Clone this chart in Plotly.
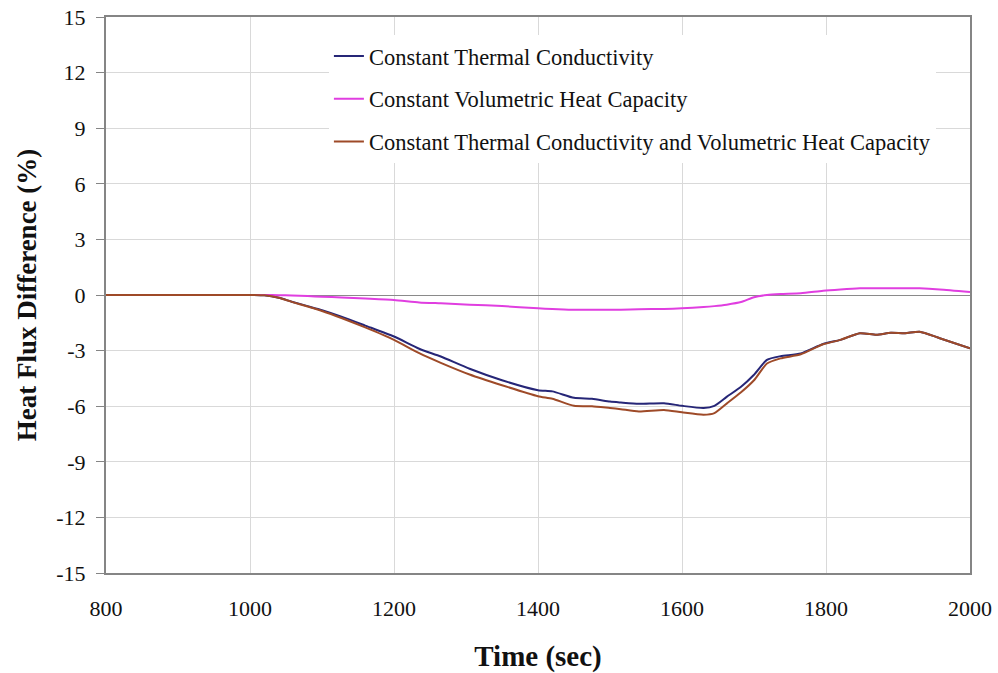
import plotly.graph_objects as go

time_s = [800, 1000, 1020, 1040, 1058, 1080, 1100, 1127, 1160, 1200, 1235, 1265, 1305, 1350,
          1400, 1420, 1450, 1475, 1500, 1515, 1540, 1575, 1600, 1630, 1645, 1662, 1682, 1700,
          1718, 1737, 1765, 1796, 1820, 1847, 1870, 1890, 1910, 1930, 1958, 2000]

const_k = [0, 0, -0.02, -0.15, -0.36, -0.6, -0.82, -1.17, -1.65, -2.24, -2.9, -3.32, -3.98, -4.6,
           -5.14, -5.2, -5.55, -5.6, -5.75, -5.8, -5.87, -5.84, -5.98, -6.1, -5.98, -5.5, -4.95, -4.3,
           -3.5, -3.3, -3.15, -2.64, -2.42, -2.06, -2.14, -2.04, -2.06, -1.98, -2.33, -2.87]

const_c = [0, 0, 0, -0.01, -0.03, -0.06, -0.09, -0.13, -0.19, -0.27, -0.4, -0.45, -0.52, -0.6,
           -0.72, -0.75, -0.8, -0.79, -0.8, -0.8, -0.77, -0.75, -0.72, -0.65, -0.6, -0.52, -0.38, -0.12,
           0.0, 0.05, 0.09, 0.23, 0.3, 0.36, 0.37, 0.37, 0.37, 0.36, 0.3, 0.16]

const_kc = [0, 0, -0.02, -0.15, -0.37, -0.62, -0.86, -1.24, -1.75, -2.42, -3.14, -3.66, -4.29, -4.87,
            -5.46, -5.6, -5.98, -6.0, -6.1, -6.16, -6.28, -6.2, -6.33, -6.46, -6.37, -5.86, -5.25, -4.6,
            -3.7, -3.42, -3.2, -2.66, -2.42, -2.06, -2.14, -2.04, -2.06, -1.98, -2.33, -2.87]

names = ["Constant Thermal Conductivity",
         "Constant Volumetric Heat Capacity",
         "Constant Thermal Conductivity and Volumetric Heat Capacity"]
colors = ["#262677", "#e03ee0", "#9e4a28"]
series = [const_k, const_c, const_kc]

y_tickvals = [-15, -12, -9, -6, -3, 0, 3, 6, 9, 12, 15]
y_ticktext = ["-15", "-12", "-9", "-6", "-3", "0", "3", "6", "9", "12", "15"]
x_tickvals = [800, 1000, 1200, 1400, 1600, 1800, 2000]

fig = go.Figure()
for i, (nm, col, ys) in enumerate(zip(names, colors, series)):
    fig.add_trace(go.Scatter(x=time_s, y=ys, mode="lines", name=nm, legendgroup=f"g{i}",
                             line=dict(color=col, width=2, shape="spline", smoothing=0.6)))

font_family = "Liberation Serif"
fig.update_layout(
    width=998, height=673,
    margin=dict(l=106, r=28, t=17, b=100),
    paper_bgcolor="white", plot_bgcolor="white",
    font=dict(family=font_family, color="#111111"),
    showlegend=True,
    legend=dict(x=0.258, y=0.968, xanchor="left", yanchor="top",
                bgcolor="white", borderwidth=0,
                font=dict(family=font_family, size=22.5, color="#111111"),
                traceorder="grouped", tracegroupgap=10.5),
    xaxis=dict(range=[800, 2000], tickvals=x_tickvals, automargin=False,
               showgrid=True, gridcolor="#d9d9d9", gridwidth=1,
               showline=True, linecolor="#858585", linewidth=2, mirror=True,
               ticks="", ticklabelstandoff=15, zeroline=False,
               tickfont=dict(size=22, family=font_family),
               title=dict(text="<b>Time (sec)</b>", font=dict(size=29, family=font_family), standoff=34)),
    yaxis=dict(range=[-15, 15], tickvals=y_tickvals, ticktext=y_ticktext, automargin=False,
               showgrid=True, gridcolor="#d9d9d9", gridwidth=1,
               showline=True, linecolor="#858585", linewidth=2, mirror=True,
               ticks="outside", ticklen=8, tickcolor="#858585", ticklabelstandoff=6,
               zeroline=True, zerolinecolor="#8a8a8a", zerolinewidth=1,
               tickfont=dict(size=22, family=font_family),
               title=dict(text="<b>Heat Flux Difference (%)</b>", font=dict(size=27, family=font_family), standoff=12)),
)

fig.write_html("out.html")
